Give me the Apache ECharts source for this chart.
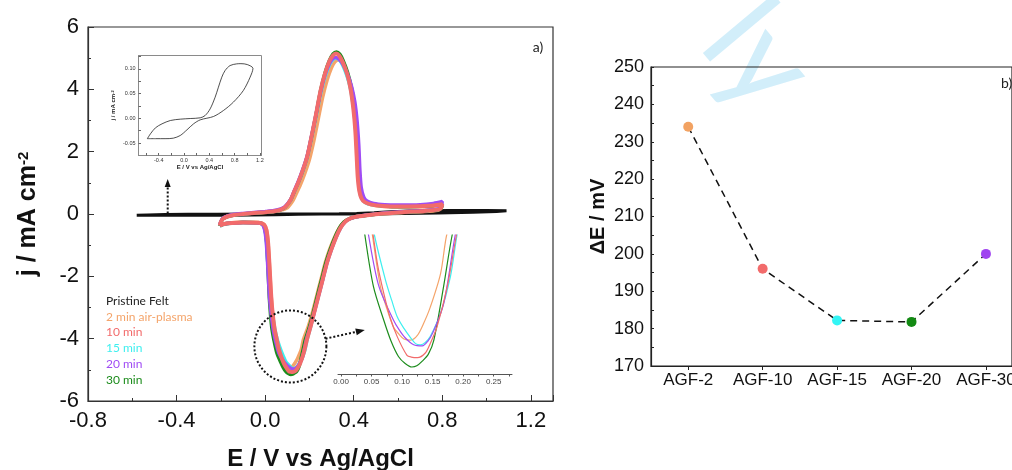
<!DOCTYPE html>
<html>
<head>
<meta charset="utf-8">
<script src="https://cdn.jsdelivr.net/npm/echarts@6/dist/echarts.min.js"></script>
<style>
html,body{margin:0;padding:0;background:#fff;}
#chart{width:1012px;height:470px;}
</style>
</head>
<body>
<div id="chart"></div>
<script>
// ---- Cyclic voltammograms, [E (V vs Ag/AgCl), j (mA cm^-2)] ----
const pristineFelt = [
  [-0.58,-0.041],[-0.45,-0.041],[-0.3,-0.041],[-0.17,-0.040],[-0.06,-0.0346],[0.046,-0.0232],
  [0.151,-0.011],[0.256,-0.003],[0.466,0.0038],[0.623,0.0159],[0.78,0.0327],[0.938,0.0563],
  [1.045,0.0832],[1.09,0.101],[1.0,0.1087],[0.9,0.1105],[0.833,0.1101],[0.728,0.1067],
  [0.649,0.0966],[0.597,0.0832],[0.544,0.063],[0.492,0.0428],[0.413,0.0192],[0.334,0.0058],
  [0.256,0.0011],[0.098,-0.0003],[-0.059,-0.0016],[-0.216,-0.0043],[-0.348,-0.011],
  [-0.452,-0.0191],[-0.531,-0.0312],[-0.58,-0.041]
];

const cv2min = [
  [-0.205,-0.37],[-0.2,-0.25],[-0.19,-0.14],[-0.17,-0.07],[-0.14,-0.02],[-0.1,0.01],[-0.05,0.03],[0.0,0.05],
  [0.04,0.08],[0.07,0.12],[0.1,0.2],[0.125,0.42],[0.14,0.64],[0.16,0.95],[0.18,1.32],[0.2,1.75],[0.22,2.35],
  [0.24,3.05],[0.26,3.75],[0.28,4.3],[0.3,4.7],[0.315,4.88],[0.33,4.95],[0.345,4.88],[0.36,4.68],[0.375,4.35],
  [0.39,3.9],[0.402,3.3],[0.41,2.6],[0.416,1.85],[0.421,1.15],[0.428,0.72],[0.44,0.48],[0.455,0.36],[0.49,0.28],
  [0.54,0.24],[0.6,0.22],[0.7,0.23],[0.76,0.25],[0.8,0.29],
  [0.795,0.18],[0.78,0.12],[0.72,0.08],[0.62,0.05],[0.52,0.0],[0.46,-0.04],[0.41,-0.09],[0.375,-0.16],
  [0.355,-0.26],[0.335,-0.45],[0.313,-0.75],[0.292,-1.12],[0.272,-1.55],[0.252,-2.1],[0.232,-2.65],[0.212,-3.2],
  [0.195,-3.6],[0.173,-4.02],[0.163,-4.35],[0.146,-4.64],[0.135,-4.78],[0.125,-4.88],[0.114,-4.92],[0.103,-4.91],
  [0.095,-4.87],[0.086,-4.81],[0.075,-4.65],[0.0644,-4.46],[0.0513,-4.02],[0.042,-3.7],[0.034,-3.2],[0.028,-2.7],
  [0.023,-2.1],[0.018,-1.45],[0.013,-0.9],[0.006,-0.5],[-0.005,-0.33],[-0.03,-0.27],[-0.1,-0.26],[-0.15,-0.28],
  [-0.19,-0.32],[-0.205,-0.37]
];

const cv10min = [
  [-0.205,-0.38],[-0.2,-0.26],[-0.19,-0.15],[-0.17,-0.08],[-0.14,-0.03],[-0.1,0.0],[-0.05,0.03],[0.0,0.06],
  [0.04,0.09],[0.07,0.14],[0.09,0.22],[0.115,0.45],[0.13,0.7],[0.15,1.02],[0.17,1.4],[0.19,1.84],[0.21,2.5],
  [0.23,3.2],[0.25,3.95],[0.27,4.5],[0.29,4.9],[0.305,5.08],[0.32,5.15],[0.335,5.08],[0.35,4.88],[0.37,4.5],
  [0.385,4.05],[0.398,3.4],[0.407,2.7],[0.413,1.9],[0.418,1.2],[0.425,0.75],[0.435,0.5],[0.45,0.38],[0.48,0.3],
  [0.53,0.26],[0.6,0.24],[0.7,0.25],[0.76,0.27],[0.8,0.31],
  [0.795,0.2],[0.78,0.14],[0.72,0.1],[0.62,0.06],[0.52,0.01],[0.46,-0.04],[0.41,-0.09],[0.38,-0.16],[0.36,-0.26],
  [0.34,-0.45],[0.32,-0.75],[0.3,-1.12],[0.28,-1.55],[0.26,-2.1],[0.24,-2.65],[0.22,-3.2],[0.205,-3.62],
  [0.189,-4.02],[0.174,-4.46],[0.157,-4.81],[0.146,-4.95],[0.138,-5.03],[0.125,-5.07],[0.115,-5.065],[0.108,-5.05],
  [0.092,-4.89],[0.08,-4.72],[0.07,-4.52],[0.06,-4.28],[0.0525,-4.02],[0.043,-3.7],[0.034,-3.2],[0.028,-2.7],
  [0.023,-2.1],[0.018,-1.45],[0.013,-0.9],[0.006,-0.52],[-0.005,-0.34],[-0.03,-0.28],[-0.1,-0.27],[-0.15,-0.29],
  [-0.19,-0.33],[-0.205,-0.38]
];

const cv15min = [
  [-0.205,-0.39],[-0.2,-0.27],[-0.19,-0.15],[-0.17,-0.08],[-0.14,-0.03],[-0.1,0.0],[-0.05,0.03],[0.0,0.06],
  [0.04,0.09],[0.07,0.14],[0.09,0.22],[0.115,0.44],[0.13,0.68],[0.15,1.0],[0.17,1.37],[0.19,1.8],[0.21,2.45],
  [0.23,3.12],[0.25,3.85],[0.27,4.4],[0.29,4.78],[0.305,4.95],[0.32,5.0],[0.335,4.95],[0.35,4.78],[0.37,4.42],
  [0.386,4.0],[0.4,3.35],[0.409,2.65],[0.415,1.85],[0.42,1.15],[0.427,0.72],[0.437,0.48],[0.452,0.37],[0.48,0.3],
  [0.53,0.26],[0.6,0.24],[0.7,0.25],[0.76,0.28],[0.8,0.32],
  [0.795,0.2],[0.78,0.14],[0.72,0.1],[0.62,0.06],[0.52,0.01],[0.46,-0.04],[0.41,-0.09],[0.38,-0.16],[0.36,-0.26],
  [0.34,-0.45],[0.32,-0.75],[0.3,-1.12],[0.28,-1.55],[0.26,-2.1],[0.24,-2.65],[0.22,-3.2],[0.206,-3.6],
  [0.19,-4.02],[0.179,-4.38],[0.163,-4.69],[0.146,-4.89],[0.138,-4.94],[0.130,-4.96],[0.122,-4.95],[0.114,-4.9],
  [0.103,-4.82],[0.092,-4.72],[0.083,-4.58],[0.073,-4.41],[0.0546,-4.02],[0.044,-3.7],[0.033,-3.2],[0.024,-2.7],
  [0.017,-2.1],[0.011,-1.45],[0.006,-0.9],[0.0,-0.52],[-0.01,-0.34],[-0.03,-0.28],[-0.1,-0.27],[-0.15,-0.29],
  [-0.19,-0.34],[-0.205,-0.39]
];

const cv20min = [
  [-0.205,-0.36],[-0.2,-0.24],[-0.19,-0.13],[-0.17,-0.06],[-0.14,-0.01],[-0.1,0.02],[-0.05,0.05],[0.0,0.08],
  [0.04,0.11],[0.07,0.16],[0.09,0.24],[0.115,0.47],[0.13,0.72],[0.15,1.05],[0.17,1.43],[0.19,1.87],[0.21,2.52],
  [0.23,3.2],[0.25,3.9],[0.27,4.45],[0.29,4.82],[0.305,4.98],[0.317,5.02],[0.333,4.97],[0.35,4.82],[0.37,4.52],
  [0.39,4.1],[0.405,3.6],[0.415,3.0],[0.423,2.2],[0.428,1.4],[0.434,0.85],[0.445,0.55],[0.46,0.42],[0.49,0.34],
  [0.54,0.3],[0.6,0.29],[0.7,0.3],[0.76,0.34],[0.8,0.4],
  [0.795,0.24],[0.78,0.16],[0.72,0.11],[0.62,0.07],[0.52,0.02],[0.46,-0.03],[0.41,-0.09],[0.38,-0.16],[0.36,-0.26],
  [0.34,-0.45],[0.32,-0.75],[0.3,-1.12],[0.28,-1.55],[0.26,-2.1],[0.24,-2.65],[0.22,-3.2],[0.204,-3.62],
  [0.187,-4.02],[0.168,-4.61],[0.15,-4.86],[0.142,-4.93],[0.133,-4.97],[0.119,-4.96],[0.105,-4.9],[0.095,-4.83],
  [0.086,-4.75],[0.062,-4.46],[0.045,-4.02],[0.036,-3.7],[0.027,-3.2],[0.02,-2.7],[0.015,-2.1],[0.01,-1.45],
  [0.005,-0.9],[-0.002,-0.52],[-0.012,-0.34],[-0.035,-0.28],[-0.1,-0.27],[-0.15,-0.29],[-0.19,-0.32],[-0.205,-0.36]
];

const cv30min = [
  [-0.205,-0.38],[-0.2,-0.26],[-0.19,-0.15],[-0.17,-0.08],[-0.14,-0.03],[-0.1,0.0],[-0.05,0.03],[0.0,0.06],
  [0.04,0.09],[0.07,0.14],[0.09,0.22],[0.115,0.45],[0.13,0.7],[0.15,1.02],[0.17,1.4],[0.19,1.85],[0.21,2.5],
  [0.23,3.2],[0.25,3.95],[0.27,4.52],[0.29,4.92],[0.307,5.14],[0.322,5.2],[0.337,5.13],[0.352,4.93],[0.372,4.55],
  [0.39,4.05],[0.404,3.45],[0.413,2.75],[0.419,1.95],[0.424,1.25],[0.431,0.78],[0.441,0.52],[0.456,0.39],[0.49,0.3],
  [0.54,0.26],[0.6,0.24],[0.7,0.25],[0.76,0.27],[0.8,0.31],
  [0.795,0.2],[0.78,0.14],[0.72,0.1],[0.62,0.06],[0.52,0.01],[0.46,-0.04],[0.41,-0.09],[0.378,-0.16],[0.356,-0.26],
  [0.335,-0.45],[0.315,-0.75],[0.295,-1.12],[0.275,-1.55],[0.255,-2.1],[0.235,-2.65],[0.216,-3.2],[0.2,-3.62],
  [0.182,-4.02],[0.168,-4.46],[0.152,-4.92],[0.143,-5.04],[0.133,-5.1],[0.124,-5.14],[0.116,-5.15],[0.105,-5.12],
  [0.094,-5.06],[0.082,-4.93],[0.07,-4.75],[0.053,-4.46],[0.039,-4.02],[0.031,-3.7],[0.024,-3.2],[0.019,-2.7],
  [0.015,-2.1],[0.011,-1.45],[0.007,-0.9],[0.0,-0.52],[-0.01,-0.34],[-0.03,-0.28],[-0.1,-0.27],[-0.15,-0.29],
  [-0.19,-0.33],[-0.205,-0.38]
];

// ---- Peak separation per treatment time ----
const samples = ['AGF-2', 'AGF-10', 'AGF-15', 'AGF-20', 'AGF-30'];
const deltaE = [234, 196, 182.2, 181.8, 200];

// ---- Tick labels ----
const insetXTicks = [-0.4, 0.0, 0.4, 0.8, 1.2];
const insetYTicks = [-0.05, 0.0, 0.05, 0.10];
const zoomXTicks = [0.00, 0.05, 0.10, 0.15, 0.20, 0.25];

// ---- Appearance ----
const curves = [
  { name: '2 min air-plasma', data: cv2min,  color: '#F4A46A' },
  { name: '15 min',           data: cv15min, color: '#3FEFEF' },
  { name: '30 min',           data: cv30min, color: '#1C8C1C' },
  { name: '20 min',           data: cv20min, color: '#A04CF4' },
  { name: '10 min',           data: cv10min, color: '#F26B6B' }
];
const legendOrder = ['Pristine Felt', '2 min air-plasma', '10 min', '15 min', '20 min', '30 min'];
const pointColors = ['#F2A262', '#F26B6B', '#33F5F5', '#138A13', '#A044F0'];

const sans = '"Liberation Sans", Arial, sans-serif';
const soft = 'Lato, "Open Sans", sans-serif';
const fmt1 = v => (Math.abs(v) < 1e-9 ? 0 : v).toFixed(1);
const fmt2 = v => (Math.abs(v) < 1e-9 ? 0 : v).toFixed(2);

const chart = echarts.init(document.getElementById('chart'), null, { renderer: 'canvas' });

const series = [];
// pristine felt on main axes and in the upper inset
series.push({
  type: 'line', name: 'Pristine Felt', xAxisIndex: 0, yAxisIndex: 0, data: pristineFelt,
  symbol: 'none', lineStyle: { color: '#111', width: 3 }, z: 2
});
series.push({
  type: 'line', name: 'Pristine Felt', xAxisIndex: 1, yAxisIndex: 1, data: pristineFelt,
  symbol: 'none', smooth: 0.3, lineStyle: { color: '#222', width: 0.8 }, z: 2
});
curves.forEach((c, i) => {
  series.push({
    type: 'line', name: c.name, xAxisIndex: 0, yAxisIndex: 0, data: c.data,
    symbol: 'none', smooth: 0.25, lineStyle: { color: c.color, width: i === curves.length - 1 ? 4 : 3.5 },
    z: 3 + i
  });
  series.push({
    type: 'line', name: c.name, xAxisIndex: 2, yAxisIndex: 2, data: c.data,
    symbol: 'none', smooth: 0.3, clip: true, lineStyle: { color: c.color, width: 1.2 }, z: 3 + i
  });
});
// peak separation: sample positions 0..4 on a value axis so the plot can run past the page edge
series.push({
  type: 'line', name: 'ΔE', xAxisIndex: 3, yAxisIndex: 3,
  data: deltaE.map((v, i) => ({ value: [i, v], itemStyle: { color: pointColors[i] } })),
  symbol: 'circle', symbolSize: 10,
  lineStyle: { color: '#111', width: 1.5, type: [7, 5] }, z: 5
});

const colorOf = n => n === 'Pristine Felt' ? '#222' : curves.find(c => c.name === n).color;

const option = {
  animation: false,
  backgroundColor: '#fff',
  textStyle: { fontFamily: sans },
  legend: {
    orient: 'vertical', left: 96, top: 288,
    itemWidth: 0, itemHeight: 0, itemGap: 0,
    selectedMode: false,
    data: legendOrder.map(n => ({ name: n, icon: 'rect', textStyle: { color: colorOf(n) } })),
    textStyle: { fontFamily: soft, fontSize: 12, lineHeight: 15.8 }
  },
  grid: [
    { left: 88, top: 27, width: 465, height: 374, show: true, borderColor: '#333', borderWidth: 1.2, outerBoundsMode: 'none' },
    { left: 138.5, top: 55.5, width: 123, height: 100, show: true, borderColor: '#8a8a8a', borderWidth: 1, outerBoundsMode: 'none' },
    { left: 338, top: 235, width: 174, height: 139, outerBoundsMode: 'none' },
    { left: 651, top: 67, width: 361, height: 299, show: true, borderColor: '#222', borderWidth: 1.2, outerBoundsMode: 'none' }
  ],
  xAxis: [
    {
      gridIndex: 0, type: 'value', min: -0.8, max: 1.3, interval: 0.4,
      axisLine: { show: true, onZero: false, lineStyle: { color: '#333', width: 1.2 } },
      axisTick: { inside: true, length: 6, lineStyle: { color: '#333' } },
      minorTick: { show: true, splitNumber: 2, length: 3, lineStyle: { color: '#333' } },
      splitLine: { show: false },
      axisLabel: { fontSize: 22, color: '#111', margin: 9, showMaxLabel: false, formatter: fmt1 },
      name: 'E / V vs Ag/AgCl', nameLocation: 'middle', nameGap: 46,
      nameTextStyle: { fontSize: 24, fontWeight: 'bold', color: '#111' }
    },
    {
      gridIndex: 1, type: 'value', min: -0.72, max: 1.225,
      axisLine: { show: true, onZero: false, lineStyle: { color: '#8a8a8a', width: 1 } },
      axisTick: { inside: true, length: 2.5, customValues: [-0.6,-0.4,-0.2,0,0.2,0.4,0.6,0.8,1.0,1.2], lineStyle: { color: '#666' } },
      splitLine: { show: false },
      axisLabel: { fontSize: 5.5, color: '#333', margin: 2, customValues: insetXTicks, formatter: fmt1 },
      name: 'E / V vs Ag/AgCl', nameLocation: 'middle', nameGap: 9,
      nameTextStyle: { fontSize: 6, fontWeight: 'bold', color: '#222' }
    },
    {
      gridIndex: 2, type: 'value', min: -0.005, max: 0.28,
      axisLine: { show: true, onZero: false, lineStyle: { color: '#555', width: 1 } },
      axisTick: { inside: false, length: 2.5, customValues: [0,0.025,0.05,0.075,0.1,0.125,0.15,0.175,0.2,0.225,0.25,0.275], lineStyle: { color: '#555' } },
      splitLine: { show: false },
      axisLabel: { fontSize: 8, color: '#444', margin: 4, customValues: zoomXTicks, formatter: fmt2 }
    },
    {
      gridIndex: 3, type: 'value', min: -0.5, max: 4.35,
      axisLine: { show: true, onZero: false, lineStyle: { color: '#222', width: 1.2 } },
      axisTick: { inside: false, length: 4, customValues: [0, 1, 2, 3, 4], lineStyle: { color: '#222' } },
      splitLine: { show: false },
      axisLabel: { fontSize: 17, color: '#111', margin: 6, customValues: [0, 1, 2, 3, 4],
        formatter: v => samples[Math.round(v)] }
    }
  ],
  yAxis: [
    {
      gridIndex: 0, type: 'value', min: -6, max: 6, interval: 2,
      axisLine: { show: true, onZero: false, lineStyle: { color: '#333', width: 1.2 } },
      axisTick: { inside: true, length: 6, lineStyle: { color: '#333' } },
      minorTick: { show: true, splitNumber: 2, length: 3, lineStyle: { color: '#333' } },
      splitLine: { show: false },
      axisLabel: { fontSize: 22, color: '#111', margin: 9 },
      name: 'j / mA cm{sup|-2}', nameLocation: 'middle', nameGap: 47,
      nameTextStyle: {
        fontSize: 25, fontWeight: 'bold', color: '#111',
        rich: { sup: { fontSize: 15, fontWeight: 'bold', color: '#111', verticalAlign: 'top' } }
      }
    },
    {
      gridIndex: 1, type: 'value', min: -0.075, max: 0.127,
      axisLine: { show: true, onZero: false, lineStyle: { color: '#8a8a8a', width: 1 } },
      axisTick: { inside: true, length: 2.5, customValues: [-0.05,-0.025,0,0.025,0.05,0.075,0.1,0.125], lineStyle: { color: '#666' } },
      splitLine: { show: false },
      axisLabel: { fontSize: 5.5, color: '#333', margin: 3, customValues: insetYTicks, formatter: fmt2 },
      name: 'j / mA cm{sup|-2}', nameLocation: 'middle', nameGap: 22,
      nameTextStyle: {
        fontSize: 6, fontWeight: 'bold', color: '#222',
        rich: { sup: { fontSize: 4, fontWeight: 'bold', color: '#222', verticalAlign: 'top' } }
      }
    },
    { gridIndex: 2, type: 'value', min: -5.21, max: -4.02, show: false },
    {
      gridIndex: 3, type: 'value', min: 170, max: 250, interval: 10,
      axisLine: { show: true, onZero: false, lineStyle: { color: '#222', width: 1.2 } },
      axisTick: { inside: true, length: 3, lineStyle: { color: '#222' } },
      minorTick: { show: true, splitNumber: 2, length: 3, lineStyle: { color: '#222' } },
      splitLine: { show: false },
      axisLabel: { fontSize: 18, color: '#111', margin: 7 },
      name: 'ΔE / mV', nameLocation: 'middle', nameGap: 43,
      nameTextStyle: { fontSize: 20, fontWeight: 'bold', color: '#111' }
    }
  ],
  series: series
};

chart.setOption(option);

// ---- Annotations: magnifier circle, dotted arrows, panel tags, watermark ----
const zoomCircle = { center: [0.114, -4.25], radius: 36 };
const zoomArrowTip = [0.45, -3.72];
const insetArrow = { from: [-0.44, 0.02], to: [-0.44, 1.12] };

const px = p => chart.convertToPixel({ xAxisIndex: 0, yAxisIndex: 0 }, p);
const dotted = { stroke: '#111', lineWidth: 2, lineDash: [2, 2], fill: null };

function arrowHead(tip, from, len, wid) {
  const dx = tip[0] - from[0], dy = tip[1] - from[1];
  const d = Math.hypot(dx, dy), ux = dx / d, uy = dy / d;
  const bx = tip[0] - ux * len, by = tip[1] - uy * len;
  return [[tip[0], tip[1]], [bx - uy * wid / 2, by + ux * wid / 2], [bx + uy * wid / 2, by - ux * wid / 2]];
}

const c = px(zoomCircle.center);
const t2 = px(zoomArrowTip);
const d2 = Math.hypot(t2[0] - c[0], t2[1] - c[1]);
const s2 = [c[0] + (t2[0] - c[0]) / d2 * zoomCircle.radius, c[1] + (t2[1] - c[1]) / d2 * zoomCircle.radius];
const e2 = [t2[0] - (t2[0] - c[0]) / d2 * 7, t2[1] - (t2[1] - c[1]) / d2 * 7];
const a1 = px(insetArrow.from), t1 = px(insetArrow.to);

chart.setOption({
  graphic: [
    { type: 'text', x: 728, y: 20, rotation: -50 * Math.PI / 180, z: -1,
      style: { text: 'ly', font: '125px ' + soft, fill: '#D2EEFA', align: 'left', verticalAlign: 'middle' } },
    { type: 'circle', shape: { cx: c[0], cy: c[1], r: zoomCircle.radius }, style: dotted, z: 20 },
    { type: 'line', shape: { x1: s2[0], y1: s2[1], x2: e2[0], y2: e2[1] }, style: dotted, z: 20 },
    { type: 'polygon', shape: { points: arrowHead(t2, c, 9, 7) }, style: { fill: '#111' }, z: 20 },
    { type: 'line', shape: { x1: a1[0], y1: a1[1], x2: t1[0], y2: t1[1] + 7 }, style: dotted, z: 20 },
    { type: 'polygon', shape: { points: arrowHead(t1, a1, 8, 6) }, style: { fill: '#111' }, z: 20 },
    { type: 'text', x: 538, y: 47, style: { text: 'a)', font: '14px ' + soft, fill: '#222', align: 'center', verticalAlign: 'middle' }, z: 20 },
    { type: 'text', x: 1001, y: 83, style: { text: 'b)', font: '14px ' + soft, fill: '#222', align: 'left', verticalAlign: 'middle' }, z: 20 }
  ]
});
</script>
</body>
</html>
